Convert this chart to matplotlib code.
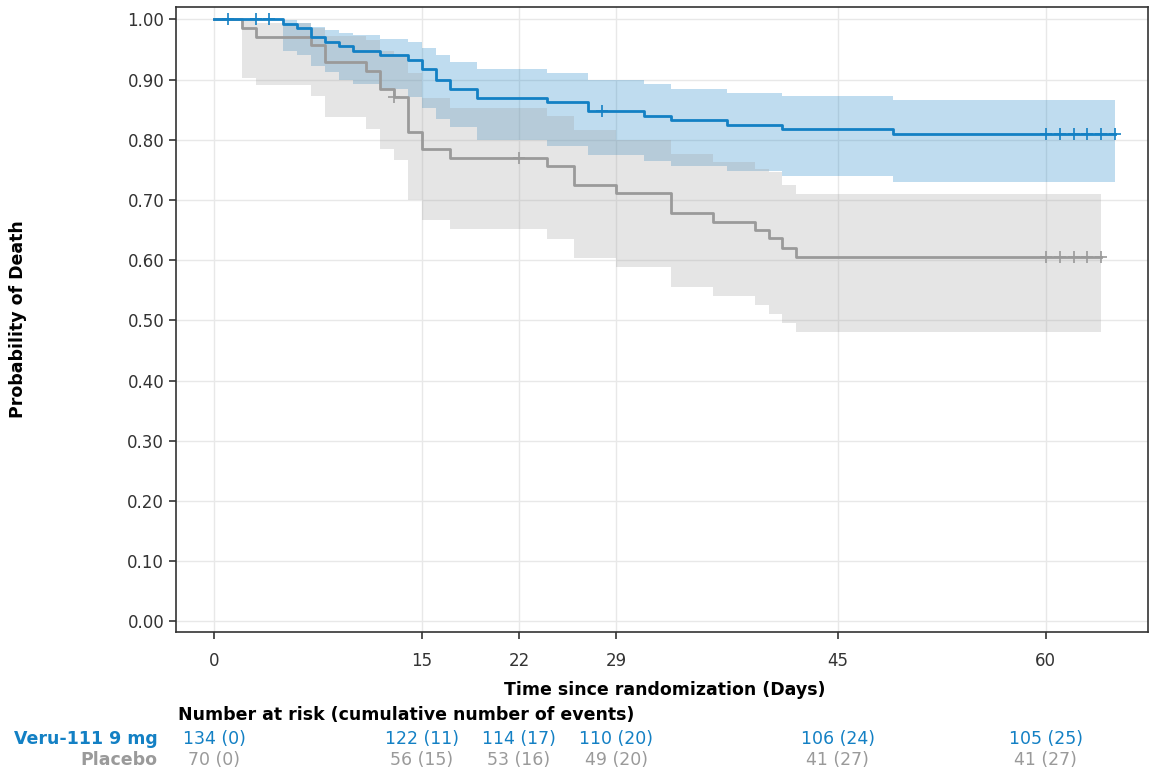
import matplotlib
matplotlib.use('Agg')
import matplotlib.pyplot as plt
import matplotlib.transforms as mtransforms
import numpy as np

# Kaplan-Meier estimates
blue_t = [0, 5, 6, 7, 8, 9, 10, 12, 14, 15, 16, 17, 19, 24, 27, 31, 33, 37, 41, 49]
blue_s = [1.0, 0.9925, 0.985, 0.970, 0.963, 0.955, 0.948, 0.940, 0.933, 0.918, 0.900,
          0.885, 0.870, 0.863, 0.848, 0.839, 0.832, 0.824, 0.817, 0.809]
blue_hi = [1.0, 0.999, 0.994, 0.988, 0.983, 0.978, 0.974, 0.968, 0.963, 0.952, 0.941,
           0.929, 0.917, 0.911, 0.899, 0.892, 0.885, 0.878, 0.872, 0.866]
blue_lo = [1.0, 0.947, 0.940, 0.922, 0.913, 0.900, 0.893, 0.885, 0.871, 0.853, 0.835,
           0.821, 0.800, 0.790, 0.774, 0.765, 0.756, 0.748, 0.739, 0.730]
blue_end = 65
blue_cens = [1, 3, 4, 28, 60, 61, 62, 63, 64, 65]

gray_t = [0, 2, 3, 7, 8, 11, 12, 13, 14, 15, 17, 24, 26, 29, 33, 36, 39, 40, 41, 42]
gray_s = [1.0, 0.986, 0.971, 0.957, 0.929, 0.914, 0.884, 0.871, 0.812, 0.785, 0.769,
          0.756, 0.725, 0.711, 0.679, 0.664, 0.650, 0.636, 0.621, 0.606]
gray_hi = [1.0, 0.999, 0.994, 0.985, 0.972, 0.965, 0.948, 0.940, 0.910, 0.870, 0.853,
           0.840, 0.816, 0.800, 0.776, 0.763, 0.751, 0.746, 0.724, 0.710]
gray_lo = [1.0, 0.903, 0.891, 0.873, 0.837, 0.818, 0.784, 0.767, 0.700, 0.667, 0.651,
           0.635, 0.603, 0.588, 0.556, 0.540, 0.525, 0.510, 0.496, 0.480]
gray_end = 64
gray_cens = [13, 22, 60, 61, 62, 63, 64]

# number at risk table
risk_days = [0, 15, 22, 29, 45, 60]
veru_n = [134, 122, 114, 110, 106, 105]
veru_ev = [0, 11, 17, 20, 24, 25]
pbo_n = [70, 56, 53, 49, 41, 41]
pbo_ev = [0, 15, 16, 20, 27, 27]

BLUE = '#1380c4'
GRAY = '#9a9a9a'
TXT = '#333333'
FS = 12.5


def km_step(t, s, end):
    tt = np.array(list(t) + [end], dtype=float)
    ss = np.array(list(s) + [s[-1]], dtype=float)
    return tt, ss


def at(t, s, x):
    i = np.searchsorted(np.array(t), x, side='right') - 1
    return s[i]


fig = plt.figure(figsize=(11.5, 7.72), dpi=100)
ax = fig.add_axes([0.153, 0.181, 0.845, 0.8096])

# confidence bands (start at first event); gray drawn over blue
tt, hh = km_step(blue_t[1:], blue_hi[1:], blue_end)
_, ll = km_step(blue_t[1:], blue_lo[1:], blue_end)
ax.fill_between(tt, ll, hh, step='post', color=BLUE, alpha=0.27, lw=0)
tt, hh = km_step(gray_t[1:], gray_hi[1:], gray_end)
_, ll = km_step(gray_t[1:], gray_lo[1:], gray_end)
ax.fill_between(tt, ll, hh, step='post', color='#a0a0a0', alpha=0.27, lw=0)

# curves
tt, ss = km_step(gray_t, gray_s, gray_end)
ax.step(tt, ss, where='post', color=GRAY, lw=2)
ax.plot(gray_cens, [at(gray_t, gray_s, c) for c in gray_cens], '+', color=GRAY, ms=9, mew=1.2)
tt, ss = km_step(blue_t, blue_s, blue_end)
ax.step(tt, ss, where='post', color=BLUE, lw=2)
ax.plot(blue_cens, [at(blue_t, blue_s, c) for c in blue_cens], '+', color=BLUE, ms=9, mew=1.2)

ax.set_xlim(-2.74, 67.35)
ax.set_ylim(-0.018, 1.02)
ax.set_xticks(risk_days)
ax.set_yticks(np.arange(0, 1.01, 0.1))
ax.set_yticklabels(['%.2f' % v for v in np.arange(0, 1.01, 0.1)])
ax.grid(True, color='#e8e8e8', lw=1)
ax.set_axisbelow(True)
ax.tick_params(axis='both', colors=TXT, labelsize=12, length=5, width=1.2)
ax.tick_params(axis='x', pad=9)
for sp in ax.spines.values():
    sp.set_color(TXT)
    sp.set_linewidth(1.2)

fig.text(0.016, 0.586, 'Probability of Death', rotation=90, ha='center', va='center',
         fontsize=FS, fontweight='bold')
fig.text(0.578, 0.106, 'Time since randomization (Days)', ha='center', va='center',
         fontsize=FS, fontweight='bold', color='black')

# risk table
trans = mtransforms.blended_transform_factory(ax.transData, fig.transFigure)
fig.text(0.155, 0.074, 'Number at risk (cumulative number of events)', ha='left', va='center',
         fontsize=FS, fontweight='bold')
fig.text(0.137, 0.043, 'Veru-111 9 mg', ha='right', va='center', fontsize=FS,
         fontweight='bold', color=BLUE)
fig.text(0.137, 0.016, 'Placebo', ha='right', va='center', fontsize=FS,
         fontweight='bold', color=GRAY)
for d, n, e in zip(risk_days, veru_n, veru_ev):
    ax.text(d, 0.043, '%d (%d)' % (n, e), transform=trans, ha='center', va='center',
            fontsize=FS, color=BLUE)
for d, n, e in zip(risk_days, pbo_n, pbo_ev):
    ax.text(d, 0.016, '%d (%d)' % (n, e), transform=trans, ha='center', va='center',
            fontsize=FS, color=GRAY)

fig.savefig('out.png', dpi=100)
